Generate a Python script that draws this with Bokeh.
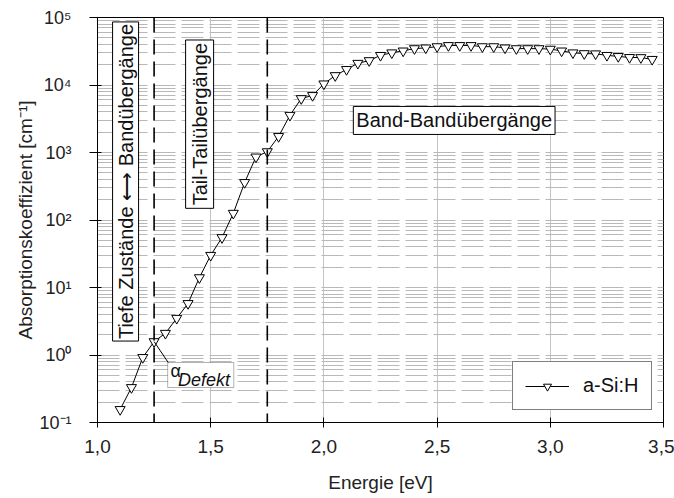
from bokeh.plotting import figure
from bokeh.models import (Label, BoxAnnotation, Span, CustomJSTickFormatter, FixedTicker,
                          Legend, LegendItem)
from bokeh.embed import file_html
from bokeh.resources import INLINE

# ---- data ----
energy = [1.10, 1.15, 1.20, 1.25, 1.30, 1.35, 1.40, 1.45, 1.50, 1.55,
          1.60, 1.65, 1.70, 1.75, 1.80, 1.85, 1.90, 1.95, 2.00, 2.05,
          2.10, 2.15, 2.20, 2.25, 2.30, 2.35, 2.40, 2.45, 2.50, 2.55,
          2.60, 2.65, 2.70, 2.75, 2.80, 2.85, 2.90, 2.95, 3.00, 3.05,
          3.10, 3.15, 3.20, 3.25, 3.30, 3.35, 3.40, 3.45]
alpha = [0.156, 0.33, 0.92, 1.58, 2.1, 3.5, 5.8, 14, 30, 55,
         126, 360, 860, 1030, 1730, 3560, 6300, 7000, 10400, 13800,
         17000, 21000, 23000, 27500, 30000, 32000, 34600, 35500, 37000, 38500,
         38500, 38500, 37000, 37000, 35500, 34600, 34600, 34600, 34000, 32000,
         30000, 29200, 29000, 27500, 26500, 25600, 25500, 24000]

x_ticks = [1.0, 1.5, 2.0, 2.5, 3.0, 3.5]
x_tick_labels = ["1,0", "1,5", "2,0", "2,5", "3,0", "3,5"]
y_ticks = [0.1, 1, 10, 100, 1000, 10000, 100000]
y_tick_labels = ["10\u207b\u00b9", "10\u2070", "10\u00b9", "10\u00b2", "10\u00b3", "10\u2074", "10\u2075"]
y_minor = [m * t for t in y_ticks[:-1] for m in range(2, 10)]

region_lines = [1.25, 1.75]
series_name = "a-Si:H"

FONT = "Liberation Sans"

p = figure(width=674, height=498, x_range=(1.0, 3.5), y_range=(0.1, 1e5),
           y_axis_type="log", output_backend="svg", toolbar_location=None,
           min_border_left=97, min_border_right=11, min_border_top=17,
           min_border_bottom=76)
p.background_fill_color = "white"
p.border_fill_color = "white"
p.outline_line_color = "black"
p.outline_line_width = 1

# axes
p.xaxis.ticker = FixedTicker(ticks=x_ticks)
p.xaxis.formatter = CustomJSTickFormatter(args=dict(tk=x_ticks, lb=x_tick_labels), code="""
let b = 0, bd = 1e9;
for (let i = 0; i < tk.length; i++) { const d = Math.abs(tk[i] - tick); if (d < bd) { bd = d; b = i; } }
return lb[b];
""")
p.yaxis.ticker = FixedTicker(ticks=y_ticks, minor_ticks=y_minor)
p.yaxis.formatter = CustomJSTickFormatter(args=dict(tk=y_ticks, lb=y_tick_labels), code="""
let b = 0, bd = 1e9;
for (let i = 0; i < tk.length; i++) { const d = Math.abs(Math.log10(tk[i]) - Math.log10(tick)); if (d < bd) { bd = d; b = i; } }
return lb[b];
""")
for ax in (p.xaxis[0], p.yaxis[0]):
    ax.axis_line_color = "black"
    ax.major_tick_line_color = "black"
    ax.minor_tick_line_color = None
    ax.major_label_text_font = FONT
    ax.major_label_text_color = "#222222"
    ax.axis_label_text_font = FONT
    ax.axis_label_text_font_size = "19px"
    ax.axis_label_text_font_style = "normal"
    ax.axis_label_text_color = "#222222"
p.xaxis.major_label_text_font_size = "19px"
p.yaxis.major_label_text_font_size = "18px"
p.xaxis.axis_label = "Energie [eV]"
p.yaxis.axis_label = "Absorptionskoeffizient [cm\u207b\u00b9]"
p.xaxis.major_tick_in = 5
p.xaxis.major_tick_out = 5
p.xaxis.major_label_standoff = 12
p.xaxis.axis_label_standoff = 16
p.yaxis.major_tick_in = 4
p.yaxis.major_tick_out = 8
p.yaxis.major_label_standoff = 18
p.yaxis.axis_label_standoff = 0

# grids
p.xgrid.grid_line_color = "#c4c4c4"
p.xgrid.grid_line_width = 1
p.ygrid.grid_line_color = "#b8b8b8"
p.ygrid.grid_line_dash = "22 6"
p.ygrid.minor_grid_line_color = "#b8b8b8"
p.ygrid.minor_grid_line_dash = "22 6"

# region separators
for loc in region_lines:
    p.add_layout(Span(location=loc, dimension="height", line_color="black",
                      line_width=1.6, line_dash="15 7"))

# data
line_r = p.line(energy, alpha, line_color="black", line_width=1)
sc_r = p.scatter(energy, alpha, marker="inverted_triangle", size=10,
                 fill_color="white", line_color="black", line_width=1)

# annotations
lab_kw = dict(text_font=FONT, text_font_size="20px", text_color="#111111",
              border_line_color="black", border_line_width=1,
              background_fill_color="white", background_fill_alpha=1.0)
p.add_layout(Label(x=2.13, y=2985, text="Band-Bandübergänge", text_align="left",
                   text_baseline="middle", padding=3, **lab_kw))
p.add_layout(Label(x=1.451, y=2630, text="Tail-Tailübergänge", angle=90, angle_units="deg",
                   text_align="center", text_baseline="middle", padding=3, **lab_kw))
p.add_layout(Label(x=1.124, y=372, text="Tiefe Zustände \u27f7 Bandübergänge", angle=90,
                   angle_units="deg", text_align="center", text_baseline="middle",
                   padding=2, **lab_kw))

# alpha_Defekt box with leader line
box = (1.31, 1.602, 0.330, 0.774)
p.add_layout(BoxAnnotation(left=box[0], right=box[1], bottom=box[2], top=box[3],
                           fill_color="white", fill_alpha=1.0, line_color="black",
                           line_width=1, level="annotation"))
p.line([energy[3], box[0] + 0.005], [alpha[3], box[3] * 0.97], line_color="black", line_width=1)
p.add_layout(Label(x=1.322, y=0.58, text="\u03b1", text_font=FONT, text_font_size="18px",
                   text_align="left", text_baseline="middle", text_color="#111111"))
p.add_layout(Label(x=1.356, y=0.43, text="Defekt", text_font=FONT, text_font_size="18px",
                   text_font_style="italic", text_align="left", text_baseline="middle",
                   text_color="#111111"))

legend = Legend(items=[LegendItem(label=series_name, renderers=[line_r, sc_r])],
                location=(415, 12), border_line_color="black", border_line_width=1,
                background_fill_color="white", background_fill_alpha=1.0,
                label_text_font=FONT, label_text_font_size="20px", label_text_color="#111111",
                glyph_width=44, glyph_height=20, label_standoff=14, padding=12, margin=0)
p.add_layout(legend)

open("out.html", "w").write(file_html(p, INLINE))
